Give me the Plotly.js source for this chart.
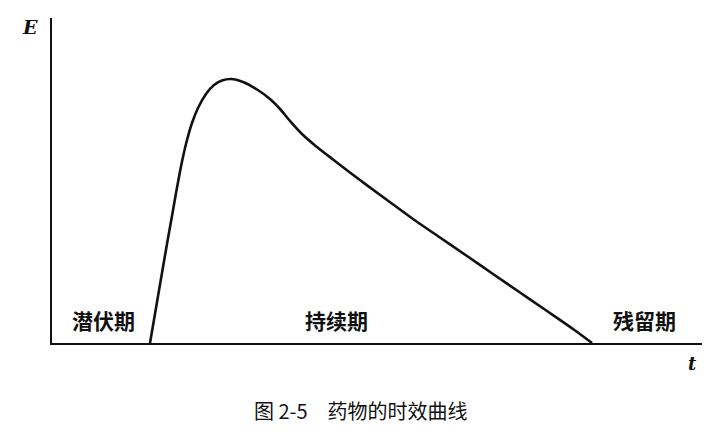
<!DOCTYPE html>
<html>
<head>
<meta charset="utf-8">
<script src="https://cdn.plot.ly/plotly-3.0.1.min.js"></script>
<style>html,body{margin:0;padding:0;background:#fff;}#chart{width:720px;height:435px;}</style>
</head>
<body>
<div id="chart"></div>
<script>
// Time (arbitrary units) and effect E
const timeValues   = [1.508, 1.600, 1.692, 1.769, 1.846, 1.908, 1.962, 2.015, 2.077, 2.154, 2.246, 2.369, 2.492, 2.615, 2.754, 2.938, 3.154, 3.354, 3.508, 3.662, 3.862, 4.077, 4.323, 4.738, 5.154, 5.554, 5.969, 6.385, 6.785, 7.200, 7.615, 8.015, 8.308];
const effectValues = [0.000, 1.077, 2.154, 3.046, 3.908, 4.615, 5.200, 5.723, 6.246, 6.769, 7.231, 7.662, 7.938, 8.077, 8.123, 8.031, 7.800, 7.508, 7.200, 6.831, 6.400, 6.031, 5.646, 5.015, 4.400, 3.815, 3.246, 2.677, 2.123, 1.554, 0.985, 0.431, 0.000];
const phaseLabels  = ['潜伏期', '持续期', '残留期'];
const captionText  = '图 2-5　药物的时效曲线';
const xAxisLabel   = 't';
const yAxisLabel   = 'E';

const phaseX = [0.785, 4.38, 9.12];
const annotations = phaseLabels.map((txt, i) => ({
  text: txt, x: phaseX[i], y: 0, xref: 'x', yref: 'y',
  yanchor: 'bottom', yshift: 6, showarrow: false,
  font: {family: 'Noto Sans CJK SC', size: 21, color: '#111', weight: 'bold'}
}));
annotations.push({
  text: yAxisLabel, xref: 'paper', yref: 'paper', x: 0, y: 1,
  xanchor: 'right', yanchor: 'middle', xshift: -12, yshift: -9, showarrow: false,
  font: {family: 'DejaVu Serif', size: 19, color: '#111', style: 'italic', weight: 'bold'}
});
annotations.push({
  text: xAxisLabel, xref: 'paper', yref: 'paper', x: 1, y: 0,
  xanchor: 'center', yanchor: 'middle', xshift: -10, yshift: -20, showarrow: false,
  font: {family: 'DejaVu Serif', size: 18, color: '#111', style: 'italic', weight: 'bold'}
});
annotations.push({
  text: captionText, xref: 'paper', yref: 'paper', x: 0.475, y: 0,
  xanchor: 'center', yanchor: 'middle', yshift: -67, showarrow: false,
  font: {family: 'Noto Sans CJK SC', size: 20, color: '#111'}
});

const trace = {
  x: timeValues, y: effectValues, type: 'scatter', mode: 'lines',
  line: {color: '#111', width: 2.6, shape: 'spline', smoothing: 1},
  hoverinfo: 'skip'
};

const layout = {
  width: 720, height: 435,
  margin: {l: 52, r: 18, t: 18, b: 92},
  paper_bgcolor: '#fff', plot_bgcolor: '#fff',
  showlegend: false,
  xaxis: {range: [0, 10], showline: true, linecolor: '#111', linewidth: 2,
          showgrid: false, zeroline: false, showticklabels: false, ticks: '', fixedrange: true},
  yaxis: {range: [0, 10], showline: true, linecolor: '#111', linewidth: 2,
          showgrid: false, zeroline: false, showticklabels: false, ticks: '', fixedrange: true},
  annotations: annotations
};

Plotly.newPlot('chart', [trace], layout, {staticPlot: true, displayModeBar: false});
</script>
</body>
</html>
